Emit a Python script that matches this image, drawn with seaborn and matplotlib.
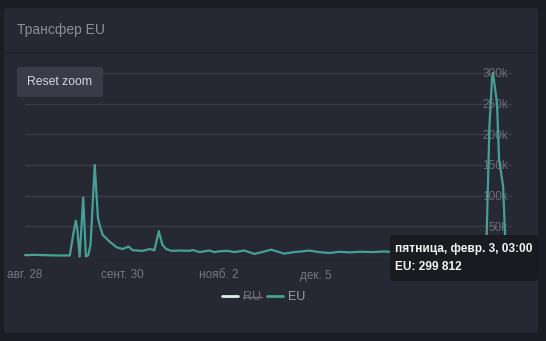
import matplotlib
matplotlib.use("Agg")
import matplotlib.pyplot as plt
from matplotlib.patches import FancyBboxPatch
from matplotlib.lines import Line2D
import seaborn as sns
import pandas as pd

# ---------------- data ----------------
title = "Трансфер EU"
series_name = "EU"
hidden_series = "RU"

eu_dates = [
    "2022-08-28 00:00", "2022-08-31 00:00", "2022-09-04 00:00", "2022-09-08 00:00",
    "2022-09-12 06:00", "2022-09-13 12:00", "2022-09-14 07:00", "2022-09-14 19:00",
    "2022-09-15 14:00", "2022-09-16 19:00", "2022-09-17 17:00", "2022-09-18 12:00",
    "2022-09-19 07:00", "2022-09-20 17:00", "2022-09-21 19:00", "2022-09-22 12:00",
    "2022-09-23 10:00", "2022-09-25 19:00", "2022-09-28 02:00", "2022-09-30 05:00",
    "2022-10-02 06:00", "2022-10-03 14:00", "2022-10-07 00:00", "2022-10-09 10:00",
    "2022-10-11 00:00", "2022-10-12 12:00", "2022-10-13 17:00", "2022-10-15 00:00",
    "2022-10-16 19:00", "2022-10-20 00:00", "2022-10-23 00:00", "2022-10-24 00:00",
    "2022-10-26 07:00", "2022-10-29 17:00", "2022-10-31 10:00", "2022-11-02 12:00",
    "2022-11-04 19:00", "2022-11-07 05:00", "2022-11-10 14:00", "2022-11-14 00:00",
    "2022-11-17 10:00", "2022-11-19 17:00", "2022-11-24 02:00", "2022-11-27 12:00",
    "2022-11-30 00:00", "2022-12-02 14:00", "2022-12-06 00:00", "2022-12-09 10:00",
    "2022-12-12 19:00", "2022-12-16 05:00", "2022-12-20 00:00", "2022-12-24 14:00",
    "2022-12-28 00:00", "2023-01-01 00:00", "2023-01-05 00:00", "2023-01-10 00:00",
    "2023-01-15 00:00", "2023-01-20 00:00", "2023-01-25 00:00", "2023-01-29 00:00",
    "2023-01-31 12:00", "2023-02-01 00:00", "2023-02-01 22:00", "2023-02-02 19:00",
    "2023-02-03 03:00", "2023-02-04 12:00", "2023-02-05 05:00", "2023-02-06 14:00",
    "2023-02-07 05:00", "2023-02-07 12:00",
]
eu_values = [
    3000, 3500, 3000, 2500,
    2500, 40000, 59000, 45000,
    500, 97000, 1000, 3000,
    20000, 150000, 64000, 50000,
    36000, 25000, 16000, 13000,
    17000, 11000, 10000, 13000,
    11000, 42000, 20000, 13000,
    10000, 10500, 10000, 11500,
    8000, 10500, 8000, 9500,
    10000, 8000, 10500, 5000,
    9000, 12000, 5500, 8000,
    9000, 10500, 8000, 6500,
    8500, 7500, 8500, 8000,
    9000, 8000, 9000, 8000,
    8500, 7500, 8500, 8000,
    8000, 39000, 212000, 290000,
    299812, 251000, 158000, 115000,
    39000, 5000,
]

# visible x tick labels (the one under the tooltip is hidden in the reference)
x_tick_dates = ["2022-08-28", "2022-09-30", "2022-11-02", "2022-12-05"]
x_tick_labels = ["авг. 28", "сент. 30", "нояб. 2", "дек. 5"]
y_ticks = [0, 50000, 100000, 150000, 200000, 250000, 300000]
y_tick_labels = ["", "50k", "100k", "150k", "200k", "250k", "300k"]

tooltip_line1 = "пятница, февр. 3, 03:00"
tooltip_line2 = "EU: 299 812"
button_text = "Reset zoom"

# ---------------- style ----------------
W, H = 546, 341
OUTER_BG = "#1c1d24"
PANEL_BG = "#262834"
GRID = "#3a3c48"
LINE = "#45a195"
FONT = ["Liberation Sans", "DejaVu Sans"]

sns.set_theme(style="dark")
plt.rcParams["font.family"] = FONT

df = pd.DataFrame({"date": pd.to_datetime(eu_dates), "value": eu_values})

fig = plt.figure(figsize=(W / 100, H / 100), dpi=100)
fig.patch.set_facecolor(OUTER_BG)


def fx(px):
    return px / W


def fy(py):
    return 1 - py / H


# panel
panel = FancyBboxPatch((fx(4), fy(333)), fx(534), 325 / H,
                       boxstyle="round,pad=0,rounding_size=0.008",
                       transform=fig.transFigure, fc=PANEL_BG, ec="none", zorder=-2)
fig.add_artist(panel)
fig.add_artist(Line2D([fx(4), fx(538)], [fy(53), fy(53)], transform=fig.transFigure,
                      color="#1e1f27", lw=1.2, zorder=-1))

fig.text(fx(17), fy(30), title, color="#8c8e9a", fontsize=10, ha="left", va="center",
         family=FONT)

# axes
ax = fig.add_axes([fx(25), fy(257), 487 / W, 195 / H])
ax.set_facecolor("none")
sns.lineplot(data=df, x="date", y="value", ax=ax, color=LINE, lw=1.6,
             estimator=None, legend=False)
for ln in ax.lines:
    ln.set_clip_on(False)

ax.set_xlim(pd.Timestamp("2022-08-28"), pd.Timestamp("2022-08-28") + pd.Timedelta(days=165.6))
ax.set_ylim(0, 317600)
ax.set_xlabel("")
ax.set_ylabel("")
for s in ax.spines.values():
    s.set_visible(False)

ax.set_yticks(y_ticks)
ax.set_yticklabels(y_tick_labels)
ax.yaxis.tick_right()
ax.tick_params(axis="y", length=0, pad=-3, labelcolor="#6b6d79", labelsize=8.5)
for lab in ax.get_yticklabels():
    lab.set_ha("right")
ax.grid(axis="y", color=GRID, lw=1)
ax.grid(axis="x", visible=False)

ax.set_xticks(pd.to_datetime(x_tick_dates))
ax.set_xticklabels(x_tick_labels)
ax.tick_params(axis="x", length=0, pad=9, labelcolor="#767884", labelsize=8.5)

# legend
handles = [Line2D([], [], color="#e2eeee", lw=2), Line2D([], [], color=LINE, lw=2)]
leg = fig.legend(handles, [hidden_series, series_name], loc="center",
                 bbox_to_anchor=(fx(264), fy(297)), ncol=2, frameon=False,
                 fontsize=9, handlelength=1.3, handletextpad=0.4, columnspacing=0.45)
texts = leg.get_texts()
texts[0].set_color("#6e707c")
texts[1].set_color("#9c9eaa")

# reset zoom button
btn = FancyBboxPatch((fx(17), fy(97)), fx(86), 30 / H,
                     boxstyle="round,pad=0,rounding_size=0.006",
                     transform=fig.transFigure, fc="#393b48", ec="none", zorder=5)
fig.add_artist(btn)
fig.text(fx(60), fy(82), button_text, color="#d6d6de", fontsize=8.8, ha="center",
         va="center", zorder=6)

# tooltip
tip = FancyBboxPatch((fx(390), fy(281)), fx(148), 46 / H,
                     boxstyle="round,pad=0,rounding_size=0.008",
                     transform=fig.transFigure, fc="#1a1b21", ec="none", alpha=0.97, zorder=7)
fig.add_artist(tip)
fig.text(fx(395), fy(249), tooltip_line1, color="#f2f2f2", fontsize=8.6, fontweight="bold",
         ha="left", va="center", zorder=8)
fig.text(fx(395), fy(267), tooltip_line2, color="#f2f2f2", fontsize=8.6, fontweight="bold",
         ha="left", va="center", zorder=8)

# strikethrough for hidden series in legend
fig.canvas.draw()
r = fig.canvas.get_renderer()
bb = texts[0].get_window_extent(r)
ymid = (bb.y0 + bb.y1) / 2
fig.add_artist(Line2D([bb.x0 / fig.bbox.width, bb.x1 / fig.bbox.width],
                      [ymid / fig.bbox.height, ymid / fig.bbox.height],
                      transform=fig.transFigure, color="#6e707c", lw=1, zorder=9))

fig.savefig("out.png", dpi=100, facecolor=OUTER_BG)
